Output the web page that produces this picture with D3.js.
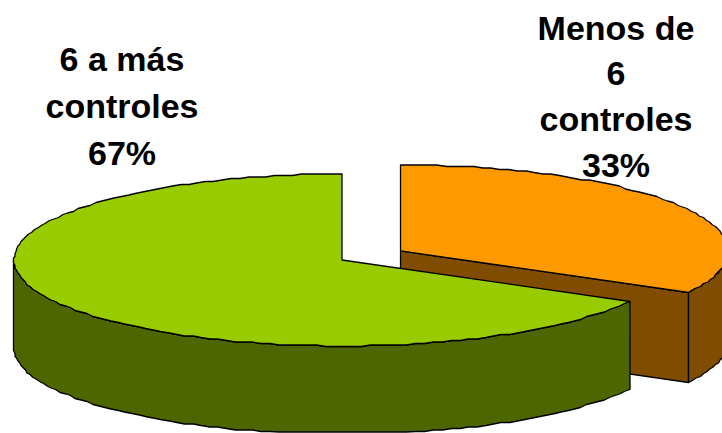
<!DOCTYPE html>
<html><head><meta charset="utf-8">
<script src="https://cdn.jsdelivr.net/npm/d3@7"></script>
<style>html,body{margin:0;padding:0;background:#fff}svg{display:block}</style>
</head><body><svg id="c" width="722" height="433"></svg>
<script>
const categories = ["Menos de 6 controles", "6 a más controles"];
const values = [33, 67];
const labelLines = [["Menos de", "6", "controles", "33%"], ["6 a más", "controles", "67%"]];
const topColors = ["#FF9900", "#99CC00"];
const wallColors = ["#804D00", "#4D6600"];

const W = 722, H = 433;
const cx = 342, cy = 260, rx = 328, ry = 86, explode = 68;
const depths = [90, 88];
const bottomLimit = 432;
const grid = 1.5, step = 0.028;
const labelX = [616, 122];
const labelBase = [[39.5, 85, 131, 177], [71, 118, 164.5]];

const svg = d3.select("#c");
svg.append("defs").append("clipPath").attr("id", "frame")
  .append("rect").attr("width", W).attr("height", H);
const g = svg.append("g").attr("clip-path", "url(#frame)");

const arcs = d3.pie().sort(null).value(d => d)(values);
const sx = d3.scaleLinear().domain([-1, 1]).range([-rx, rx]);
const sy = d3.scaleLinear().domain([-1, 1]).range([ry, -ry]);

function origin(a, i) {
  if (i !== 0) return [cx, cy];
  const mid = (a.startAngle + a.endAngle) / 2;
  return [cx + sx(Math.sin(mid) * explode / rx), cy + sy(Math.cos(mid) * explode / rx)];
}
function ang(a0, a1) { return d3.range(a0, a1, step).concat([a1]); }
const line = d3.line();
const snap = v => Math.round(v / grid) * grid;
const rim = (o, t, dy) => [snap(o[0] + sx(Math.sin(t))), Math.min(bottomLimit, snap(o[1] + sy(Math.cos(t))) + dy)];
const style = (sel, fill) => sel.attr("fill", fill).attr("stroke", "#000")
  .attr("stroke-width", 1.3).attr("stroke-linejoin", "round");

function drawWalls(a, i) {
  const o = origin(a, i), depth = depths[i];
  const s = Math.max(a.startAngle, Math.PI / 2), e = Math.min(a.endAngle, 3 * Math.PI / 2);
  const outer = ang(s, e).map(t => rim(o, t, 0));
  const outerB = ang(s, e).map(t => rim(o, t, depth)).reverse();
  if (i === 0) {
    const end = rim(o, a.endAngle, 0);
    style(g.append("path").attr("d", line([o, end, [end[0], end[1] + depth], [o[0], o[1] + depth]]) + "Z"), wallColors[i]);
  }
  style(g.append("path").attr("d", line(outer.concat(outerB)) + "Z"), wallColors[i]);
}
function drawTop(a, i) {
  const o = origin(a, i);
  const p = [o].concat(ang(a.startAngle, a.endAngle).map(t => rim(o, t, 0)));
  style(g.append("path").attr("d", line(p) + "Z"), topColors[i]);
}
drawWalls(arcs[0], 0);
drawTop(arcs[0], 0);
drawWalls(arcs[1], 1);
drawTop(arcs[1], 1);

labelLines.forEach((lines, i) => {
  lines.forEach((t, k) => {
    svg.append("text").attr("x", labelX[i]).attr("y", labelBase[i][k])
      .attr("text-anchor", "middle")
      .attr("font-family", "'Liberation Sans', Arial, sans-serif")
      .attr("font-weight", "bold").attr("font-size", 34).attr("fill", "#000").text(t);
  });
});
</script></body></html>
